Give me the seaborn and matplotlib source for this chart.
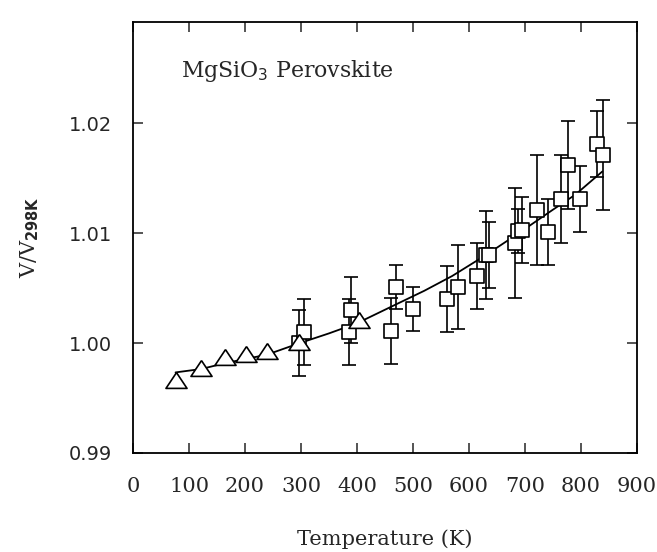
import numpy as np
import pandas as pd
import seaborn as sns
from matplotlib import pyplot as plt

# Dados
tri_T = [76, 122, 165, 202, 239, 297, 404]
tri_V = [0.99661, 0.99773, 0.99870, 0.99903, 0.99930, 1.00010, 1.00210]

sq_T = [297, 305, 385, 389, 460, 469, 500, 561, 581, 615, 630, 636,
        683, 688, 695, 721, 741, 765, 777, 799, 829, 839]
sq_V = [1.0000, 1.0010, 1.0010, 1.0030, 1.0011, 1.0051, 1.0031, 1.0040,
        1.0051, 1.0061, 1.0080, 1.0080, 1.0091, 1.0102, 1.0103, 1.0121,
        1.0101, 1.0131, 1.0162, 1.0131, 1.0181, 1.0171]
sq_err = [0.003, 0.003, 0.003, 0.003, 0.003, 0.002, 0.002, 0.003, 0.0038,
          0.003, 0.004, 0.003, 0.005, 0.002, 0.003, 0.005, 0.003, 0.004,
          0.004, 0.003, 0.003, 0.005]

curva_T = [76, 122, 165, 239, 298, 350, 400, 469, 520, 570, 630, 689, 749, 790, 838]
curva_V = [0.99733, 0.99764, 0.99818, 0.99894, 1.00000, 1.00088, 1.00180,
           1.00350, 1.00475, 1.00610, 1.00800, 1.01000, 1.01210, 1.01350, 1.01560]

sns.set_style("ticks")
plt.rcParams['font.family'] = ['DejaVu Serif']

fig = plt.figure(figsize=(6.57, 5.52), dpi=100)
ax = fig.add_axes([133/657, 1-453/552, (637-133)/657, (453-22)/552])

df_curva = pd.DataFrame({'T': curva_T, 'V': curva_V})
sns.lineplot(data=df_curva, x='T', y='V', color='black', lw=1.3, ax=ax, zorder=3)

ax.errorbar(sq_T, sq_V, yerr=sq_err, fmt='none', ecolor='black',
            elinewidth=1.2, capsize=4.8, capthick=1.2, zorder=2)

df_sq = pd.DataFrame({'T': sq_T, 'V': sq_V})
sns.scatterplot(data=df_sq, x='T', y='V', marker='s', s=90, facecolor='white',
                edgecolor='black', linewidth=1.2, ax=ax, zorder=4)

# triangulo mais achatado, como no original
tri_marker = [(0, 0.75), (-1, -0.75), (1, -0.75), (0, 0.75)]
df_tri = pd.DataFrame({'T': tri_T, 'V': tri_V})
sns.scatterplot(data=df_tri, x='T', y='V', marker=tri_marker, s=230, facecolor='white',
                edgecolor='black', linewidth=1.2, ax=ax, zorder=5)

ax.set_xlim(0, 900)
ax.set_ylim(0.99, 1.0292)
ax.set_xticks(np.arange(0, 901, 100))
ax.set_yticks([0.99, 1.00, 1.01, 1.02])
ax.set_yticklabels(['0.99', '1.00', '1.01', '1.02'])
ax.tick_params(direction='in', length=7, width=1.1, top=True, right=True)
ax.tick_params(axis='x', labelsize=15, pad=17)
ax.tick_params(axis='y', labelsize=14, pad=15)
for lab in ax.get_xticklabels():
    lab.set_family('DejaVu Serif')
for lab in ax.get_yticklabels():
    lab.set_family('DejaVu Sans')
for s in ax.spines.values():
    s.set_linewidth(1.3)
    s.set_color('black')

ax.set_xlabel('Temperature (K)', fontsize=15, labelpad=24)
ax.set_ylabel(r'V/V$_{\mathbf{298K}}$', fontsize=15, labelpad=20)
ax.text(85, 1.02418, r'MgSiO$_3$ Perovskite', fontsize=15.8, va='baseline', ha='left')

fig.savefig('out.png', dpi=100)
